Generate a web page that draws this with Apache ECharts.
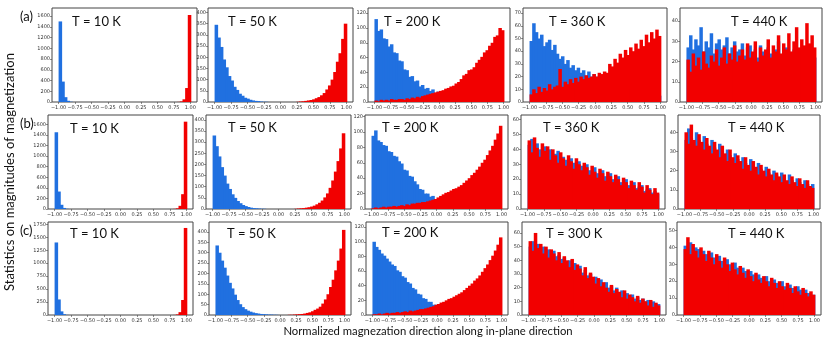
<!DOCTYPE html>
<html>
<head>
<meta charset="utf-8">
<style>html,body{margin:0;padding:0;background:#fff}#chart{width:830px;height:343px}</style>
<script src="https://cdn.jsdelivr.net/npm/echarts@6.0.0/dist/echarts.min.js"></script>
</head>
<body>
<div id="chart"></div>
<script>
// 直方图：每组 50 个 bin，覆盖 -1 ~ 1
var binW = 2 / 50;

// (a) 行
var a10Blue = [1500, 380, 90, 22, 5, 0, 0, 0, 0, 0, 0, 0, 0, 0, 0, 0, 0, 0, 0, 0, 0, 0, 0, 0, 0,
  0, 0, 0, 0, 0, 0, 0, 0, 0, 0, 0, 0, 0, 0, 0, 0, 0, 0, 0, 0, 0, 0, 0, 0, 0];
var a10Red = [0, 0, 0, 0, 0, 0, 0, 0, 0, 0, 0, 0, 0, 0, 0, 0, 0, 0, 0, 0, 0, 0, 0, 0, 0,
  0, 0, 0, 0, 0, 0, 0, 0, 0, 0, 0, 0, 0, 0, 0, 0, 0, 0, 0, 0, 2, 10, 50, 260, 1620];
var a50Blue = [345, 288, 246, 190, 155, 116, 96, 68, 54, 37, 28, 19, 15, 10, 7, 5, 4, 2, 1, 1,
  0, 0, 0, 0, 0, 0, 0, 0, 0, 0, 0, 0, 0, 0, 0, 0, 0, 0, 0, 0, 0, 0, 0, 0, 0, 0, 0, 0, 0, 0];
var a50Red = [0, 0, 0, 0, 0, 0, 0, 0, 0, 0, 0, 0, 0, 0, 0, 0, 0, 0, 0, 0, 0, 0, 0, 0, 0, 0, 0, 0, 0, 0,
  0, 1, 2, 3, 5, 7, 9, 12, 17, 22, 30, 40, 56, 74, 100, 134, 180, 218, 282, 350];
var a200Blue = [112, 96, 98, 86, 85, 75, 78, 67, 66, 56, 55, 44, 43, 34, 35, 28, 29, 21, 23, 18,
  19, 15, 17, 12, 14, 10, 8, 6, 5, 4, 3, 3, 2, 2, 1, 1, 1, 1, 0, 0, 0, 0, 0, 0, 0, 0, 0, 0, 0, 0];
var a200Red = [2, 1, 3, 2, 3, 2, 4, 3, 3, 4, 4, 3, 5, 4, 6, 5, 7, 6, 8, 9,
  10, 11, 12, 13, 14, 15, 16, 18, 19, 21, 22, 25, 27, 31, 36, 38, 43, 44, 47, 53,
  57, 61, 67, 70, 76, 80, 88, 90, 100, 97];
var a360Blue = [48, 62, 55, 50, 53, 44, 47, 49, 41, 45, 38, 34, 36, 30, 33, 27, 29, 25, 27, 23,
  25, 21, 24, 20, 22, 20, 19, 18, 17, 16, 15, 14, 14, 13, 12, 12, 11, 10, 10, 9,
  9, 8, 8, 7, 7, 6, 6, 5, 5, 5];
var a360Red = [6, 10, 7, 12, 8, 11, 9, 14, 10, 12, 13, 26, 12, 16, 14, 18, 15, 19, 16, 20,
  18, 21, 19, 20, 22, 20, 23, 22, 24, 23, 30, 28, 34, 31, 38, 35, 41, 37, 43, 40,
  46, 42, 49, 44, 53, 47, 55, 50, 57, 52];
var a440Blue = [27, 33, 26, 31, 28, 37, 25, 30, 27, 34, 24, 29, 31, 26, 28, 32, 24, 27, 30, 25,
  26, 29, 23, 27, 28, 24, 26, 22, 28, 25, 23, 27, 24, 22, 26, 30, 23, 25, 27, 22,
  24, 26, 21, 25, 23, 22, 26, 21, 24, 22];
var a440Red = [21, 15, 24, 18, 22, 16, 25, 19, 17, 23, 20, 26, 18, 22, 27, 19, 24, 21, 28, 20,
  23, 26, 21, 29, 22, 25, 30, 20, 27, 23, 26, 31, 22, 28, 25, 33, 24, 29, 26, 34,
  25, 30, 37, 27, 31, 28, 39, 29, 33, 27];

// (b) 行
var b10Blue = [1450, 330, 80, 20, 4, 0, 0, 0, 0, 0, 0, 0, 0, 0, 0, 0, 0, 0, 0, 0, 0, 0, 0, 0, 0,
  0, 0, 0, 0, 0, 0, 0, 0, 0, 0, 0, 0, 0, 0, 0, 0, 0, 0, 0, 0, 0, 0, 0, 0, 0];
var b10Red = [0, 0, 0, 0, 0, 0, 0, 0, 0, 0, 0, 0, 0, 0, 0, 0, 0, 0, 0, 0, 0, 0, 0, 0, 0,
  0, 0, 0, 0, 0, 0, 0, 0, 0, 0, 0, 0, 0, 0, 0, 0, 0, 0, 0, 0, 3, 12, 60, 280, 1650];
var b50Blue = [330, 282, 236, 188, 150, 114, 90, 66, 50, 36, 26, 18, 13, 9, 6, 4, 3, 2, 1, 1,
  0, 0, 0, 0, 0, 0, 0, 0, 0, 0, 0, 0, 0, 0, 0, 0, 0, 0, 0, 0, 0, 0, 0, 0, 0, 0, 0, 0, 0, 0];
var b50Red = [0, 0, 0, 0, 0, 0, 0, 0, 0, 0, 0, 0, 0, 0, 0, 0, 0, 0, 0, 0, 0, 0, 0, 0, 0, 0, 0, 0, 0, 0,
  0, 1, 2, 3, 4, 6, 8, 11, 15, 21, 28, 38, 52, 70, 95, 128, 168, 215, 272, 340];
var b200Blue = [95, 102, 89, 87, 83, 82, 75, 74, 69, 68, 62, 59, 51, 50, 43, 42, 36, 32, 26, 25,
  20, 20, 16, 17, 13, 12, 10, 8, 7, 6, 5, 4, 3, 3, 2, 2, 1, 1, 1, 0, 0, 0, 0, 0, 0, 0, 0, 0, 0, 0];
var b200Red = [1, 2, 1, 2, 3, 2, 3, 3, 4, 3, 4, 5, 4, 6, 5, 7, 7, 8, 8, 9,
  9, 10, 11, 12, 13, 15, 17, 19, 21, 22, 24, 26, 27, 29, 31, 34, 37, 40, 44, 47,
  51, 55, 60, 64, 70, 76, 82, 90, 98, 108];
var b360Blue = [43, 47, 37, 44, 40, 36, 42, 38, 40, 34, 37, 39, 32, 35, 33, 30, 34, 31, 28, 32,
  29, 27, 30, 26, 25, 28, 24, 23, 26, 22, 21, 24, 20, 19, 22, 18, 17, 20, 16, 15,
  18, 14, 15, 16, 12, 13, 14, 11, 12, 10];
var b360Red = [46, 38, 48, 41, 35, 44, 39, 42, 33, 40, 36, 31, 38, 34, 29, 36, 32, 27, 34, 30,
  26, 31, 28, 23, 29, 25, 21, 27, 24, 19, 25, 22, 18, 23, 20, 16, 21, 18, 14, 19,
  16, 13, 18, 15, 11, 16, 13, 10, 14, 11];
var b440Blue = [36, 42, 37, 34, 40, 36, 32, 38, 34, 30, 36, 32, 28, 34, 30, 26, 31, 28, 25, 29,
  26, 23, 27, 24, 21, 26, 22, 19, 24, 21, 18, 22, 19, 17, 20, 18, 15, 19, 16, 14,
  18, 15, 13, 16, 14, 12, 15, 13, 11, 13];
var b440Red = [40, 34, 44, 36, 33, 39, 35, 31, 37, 33, 29, 35, 31, 27, 33, 29, 25, 31, 27, 24,
  28, 25, 21, 27, 23, 20, 25, 22, 18, 23, 20, 17, 21, 18, 15, 19, 17, 14, 18, 15,
  13, 17, 14, 12, 16, 13, 11, 15, 12, 11];

// (c) 行
var c10Blue = [1400, 300, 70, 15, 3, 0, 0, 0, 0, 0, 0, 0, 0, 0, 0, 0, 0, 0, 0, 0, 0, 0, 0, 0, 0,
  0, 0, 0, 0, 0, 0, 0, 0, 0, 0, 0, 0, 0, 0, 0, 0, 0, 0, 0, 0, 0, 0, 0, 0, 0];
var c10Red = [0, 0, 0, 0, 0, 0, 0, 0, 0, 0, 0, 0, 0, 0, 0, 0, 0, 0, 0, 0, 0, 0, 0, 0, 0,
  0, 0, 0, 0, 0, 0, 0, 0, 0, 0, 0, 0, 0, 0, 0, 0, 0, 0, 0, 0, 2, 10, 55, 290, 1680];
var c50Blue = [335, 300, 262, 228, 190, 155, 128, 98, 72, 52, 38, 28, 21, 16, 12, 9, 7, 5, 4, 3,
  2, 2, 1, 1, 0, 0, 0, 0, 0, 0, 0, 0, 0, 0, 0, 0, 0, 0, 0, 0, 0, 0, 0, 0, 0, 0, 0, 0, 0, 0];
var c50Red = [0, 0, 0, 0, 0, 0, 0, 0, 0, 0, 0, 0, 0, 0, 0, 0, 0, 0, 0, 0, 0, 0, 0, 0, 0, 0, 0, 0,
  1, 1, 2, 3, 4, 5, 7, 10, 13, 18, 25, 31, 40, 55, 75, 100, 135, 170, 215, 262, 320, 410];
var c200Blue = [100, 93, 89, 84, 81, 77, 73, 69, 67, 61, 59, 53, 51, 45, 43, 37, 35, 29, 28, 23,
  22, 18, 18, 14, 14, 10, 10, 7, 6, 5, 4, 3, 3, 2, 2, 1, 1, 1, 0, 0, 0, 0, 0, 0, 0, 0, 0, 0, 0, 0];
var c200Red = [1, 1, 2, 1, 2, 3, 2, 3, 3, 4, 3, 4, 5, 4, 6, 5, 6, 7, 8, 8,
  9, 10, 11, 12, 14, 15, 17, 18, 20, 22, 23, 25, 27, 29, 31, 34, 37, 40, 43, 47,
  50, 54, 59, 64, 69, 75, 81, 88, 96, 106];
var c300Blue = [50, 54, 49, 52, 47, 50, 46, 48, 44, 47, 43, 44, 41, 42, 38, 40, 36, 38, 34, 36,
  31, 33, 29, 30, 27, 28, 25, 26, 22, 24, 20, 21, 18, 20, 16, 18, 15, 16, 13, 15,
  12, 13, 11, 12, 10, 11, 9, 10, 8, 8];
var c300Red = [54, 47, 60, 49, 52, 45, 50, 42, 48, 45, 40, 46, 38, 43, 40, 35, 41, 33, 37, 34,
  29, 35, 27, 31, 28, 23, 27, 21, 24, 20, 17, 22, 16, 19, 17, 13, 18, 12, 15, 13,
  10, 14, 9, 12, 10, 7, 11, 6, 9, 7];
var c440Blue = [41, 38, 43, 37, 40, 39, 35, 38, 36, 33, 37, 34, 31, 35, 32, 29, 33, 30, 27, 31,
  28, 25, 28, 26, 23, 26, 24, 21, 24, 22, 19, 23, 20, 18, 21, 19, 16, 20, 17, 15,
  18, 16, 14, 17, 15, 12, 15, 13, 11, 12];
var c440Red = [39, 46, 36, 42, 38, 34, 40, 36, 32, 38, 34, 30, 36, 32, 28, 34, 30, 26, 31, 27,
  24, 29, 25, 22, 27, 23, 20, 25, 21, 19, 23, 20, 17, 22, 19, 16, 20, 17, 15, 19,
  16, 13, 17, 14, 12, 16, 13, 11, 14, 12];

// 刻度
var xTickValues = [-1, -0.75, -0.5, -0.25, 0, 0.25, 0.5, 0.75, 1];
var xTickLabels = ['\u22121.00', '\u22120.75', '\u22120.50', '\u22120.25', '0.00', '0.25', '0.50', '0.75', '1.00'];
var yTicks1600 = [0, 200, 400, 600, 800, 1000, 1200, 1400, 1600];
var yTicks1750 = [0, 250, 500, 750, 1000, 1250, 1500, 1750];
var yTicks400 = [0, 50, 100, 150, 200, 250, 300, 350, 400];
var yTicks120 = [0, 20, 40, 60, 80, 100, 120];
var yTicks70 = [0, 10, 20, 30, 40, 50, 60, 70];
var yTicks60 = [0, 10, 20, 30, 40, 50, 60];
var yTicks50 = [0, 10, 20, 30, 40, 50];
var yTicks40 = [0, 10, 20, 30, 40];

var titles = [
  ['T = 10 K', 'T = 50 K', 'T = 200 K', 'T = 360 K', 'T = 440 K'],
  ['T = 10 K', 'T = 50 K', 'T = 200 K', 'T = 360 K', 'T = 440 K'],
  ['T = 10 K', 'T = 50 K', 'T = 200 K', 'T = 300 K', 'T = 440 K']
];
var rowLabels = ['(a)', '(b)', '(c)'];
var blueSets = [
  [a10Blue, a50Blue, a200Blue, a360Blue, a440Blue],
  [b10Blue, b50Blue, b200Blue, b360Blue, b440Blue],
  [c10Blue, c50Blue, c200Blue, c300Blue, c440Blue]
];
var redSets = [
  [a10Red, a50Red, a200Red, a360Red, a440Red],
  [b10Red, b50Red, b200Red, b360Red, b440Red],
  [c10Red, c50Red, c200Red, c300Red, c440Red]
];
var yMaxes = [[1750, 420, 127, 74, 46.5], [1776, 422, 122, 63, 49], [1795, 448, 127, 68, 55]];
var yTickSets = [
  [yTicks1600, yTicks400, yTicks120, yTicks70, yTicks40],
  [yTicks1600, yTicks400, yTicks120, yTicks60, yTicks40],
  [yTicks1750, yTicks400, yTicks120, yTicks60, yTicks50]
];

// 版面
var rowBox = [[8, 102], [115, 209], [222, 315]];
var colBox = [
  [[52, 197], [208, 353], [368, 510], [523, 667], [680, 822]],
  [[48, 193], [206, 351], [365, 508], [521, 665], [678, 820]],
  [[48, 193], [209, 351], [366, 508], [522, 666], [677, 821]]
];
var titlePos = [
  [[72, 22], [228, 22], [384, 22], [549, 22], [731, 22]],
  [[70, 129], [228, 128], [382, 128], [543, 128], [728, 128]],
  [[70, 234], [227, 234], [382, 233], [546, 234], [728, 234]]
];

var blue = '#2070e0', red = '#f20000';
var tickFont = 'DejaVu Sans';

function histRender(color) {
  return function (params, api) {
    var v = api.value(1);
    if (!v) return null;
    var c = api.value(0);
    var tl = api.coord([c - binW / 2, v]);
    var br = api.coord([c + binW / 2, 0]);
    return {
      type: 'rect',
      shape: { x: tl[0], y: tl[1], width: br[0] - tl[0] + 0.9, height: br[1] - tl[1] },
      style: { fill: color }
    };
  };
}

function toBins(arr) {
  return arr.map(function (v, i) { return [-1 + (i + 0.5) * binW, v]; });
}

function xLabel(v) {
  for (var i = 0; i < xTickValues.length; i++) {
    if (Math.abs(xTickValues[i] - v) < 1e-6) return xTickLabels[i];
  }
  return '';
}

var grids = [], xAxes = [], yAxes = [], series = [], graphics = [];
for (var r = 0; r < 3; r++) {
  for (var c = 0; c < 5; c++) {
    var k = grids.length;
    var box = colBox[r][c];
    grids.push({
      left: box[0], top: rowBox[r][0], width: box[1] - box[0], height: rowBox[r][1] - rowBox[r][0],
      show: true, borderColor: '#444', borderWidth: 1, backgroundColor: '#fff'
    });
    xAxes.push({
      type: 'value', gridIndex: k, min: -1.1, max: 1.1,
      axisLine: { show: false, onZero: false }, splitLine: { show: false },
      axisTick: { length: 2, customValues: xTickValues, lineStyle: { color: '#444', width: 0.6 } },
      axisLabel: { customValues: xTickValues, formatter: xLabel, fontSize: 5, margin: 3, color: '#333', fontFamily: tickFont }
    });
    yAxes.push({
      type: 'value', gridIndex: k, min: 0, max: yMaxes[r][c],
      axisLine: { show: false, onZero: false }, splitLine: { show: false },
      axisTick: { length: 2, customValues: yTickSets[r][c], lineStyle: { color: '#444', width: 0.6 } },
      axisLabel: {
        customValues: yTickSets[r][c], fontSize: 5, margin: 2, color: '#333', fontFamily: tickFont,
        formatter: function (v) { return String(v); }
      }
    });
    series.push({
      type: 'custom', xAxisIndex: k, yAxisIndex: k, silent: true,
      renderItem: histRender(blue), data: toBins(blueSets[r][c])
    });
    series.push({
      type: 'custom', xAxisIndex: k, yAxisIndex: k, silent: true,
      renderItem: histRender(red), data: toBins(redSets[r][c])
    });
    graphics.push({
      type: 'text', x: titlePos[r][c][0], y: titlePos[r][c][1], z: 100,
      style: { text: titles[r][c], font: '13px Lato', fill: '#111', textVerticalAlign: 'middle', verticalAlign: 'middle' }
    });
  }
  graphics.push({
    type: 'text', x: 20, y: rowBox[r][0] + 9, z: 100,
    style: { text: rowLabels[r], font: '13px Lato', fill: '#111', textVerticalAlign: 'middle', verticalAlign: 'middle' }
  });
}
graphics.push({
  type: 'text', x: 10, y: 172, rotation: Math.PI / 2, z: 100,
  style: { text: 'Statistics on magnitudes of magnetization', font: '13px Lato', fill: '#111',
    textAlign: 'center', align: 'center', textVerticalAlign: 'middle', verticalAlign: 'middle' }
});
graphics.push({
  type: 'text', x: 428, y: 331, z: 100,
  style: { text: 'Normalized magnezation direction along in-plane direction', font: '11.3px Lato', fill: '#111',
    textAlign: 'center', align: 'center', textVerticalAlign: 'middle', verticalAlign: 'middle' }
});

var myChart = echarts.init(document.getElementById('chart'));
myChart.setOption({
  animation: false,
  backgroundColor: '#fff',
  grid: grids,
  xAxis: xAxes,
  yAxis: yAxes,
  series: series,
  graphic: graphics
});
</script>
</body>
</html>
